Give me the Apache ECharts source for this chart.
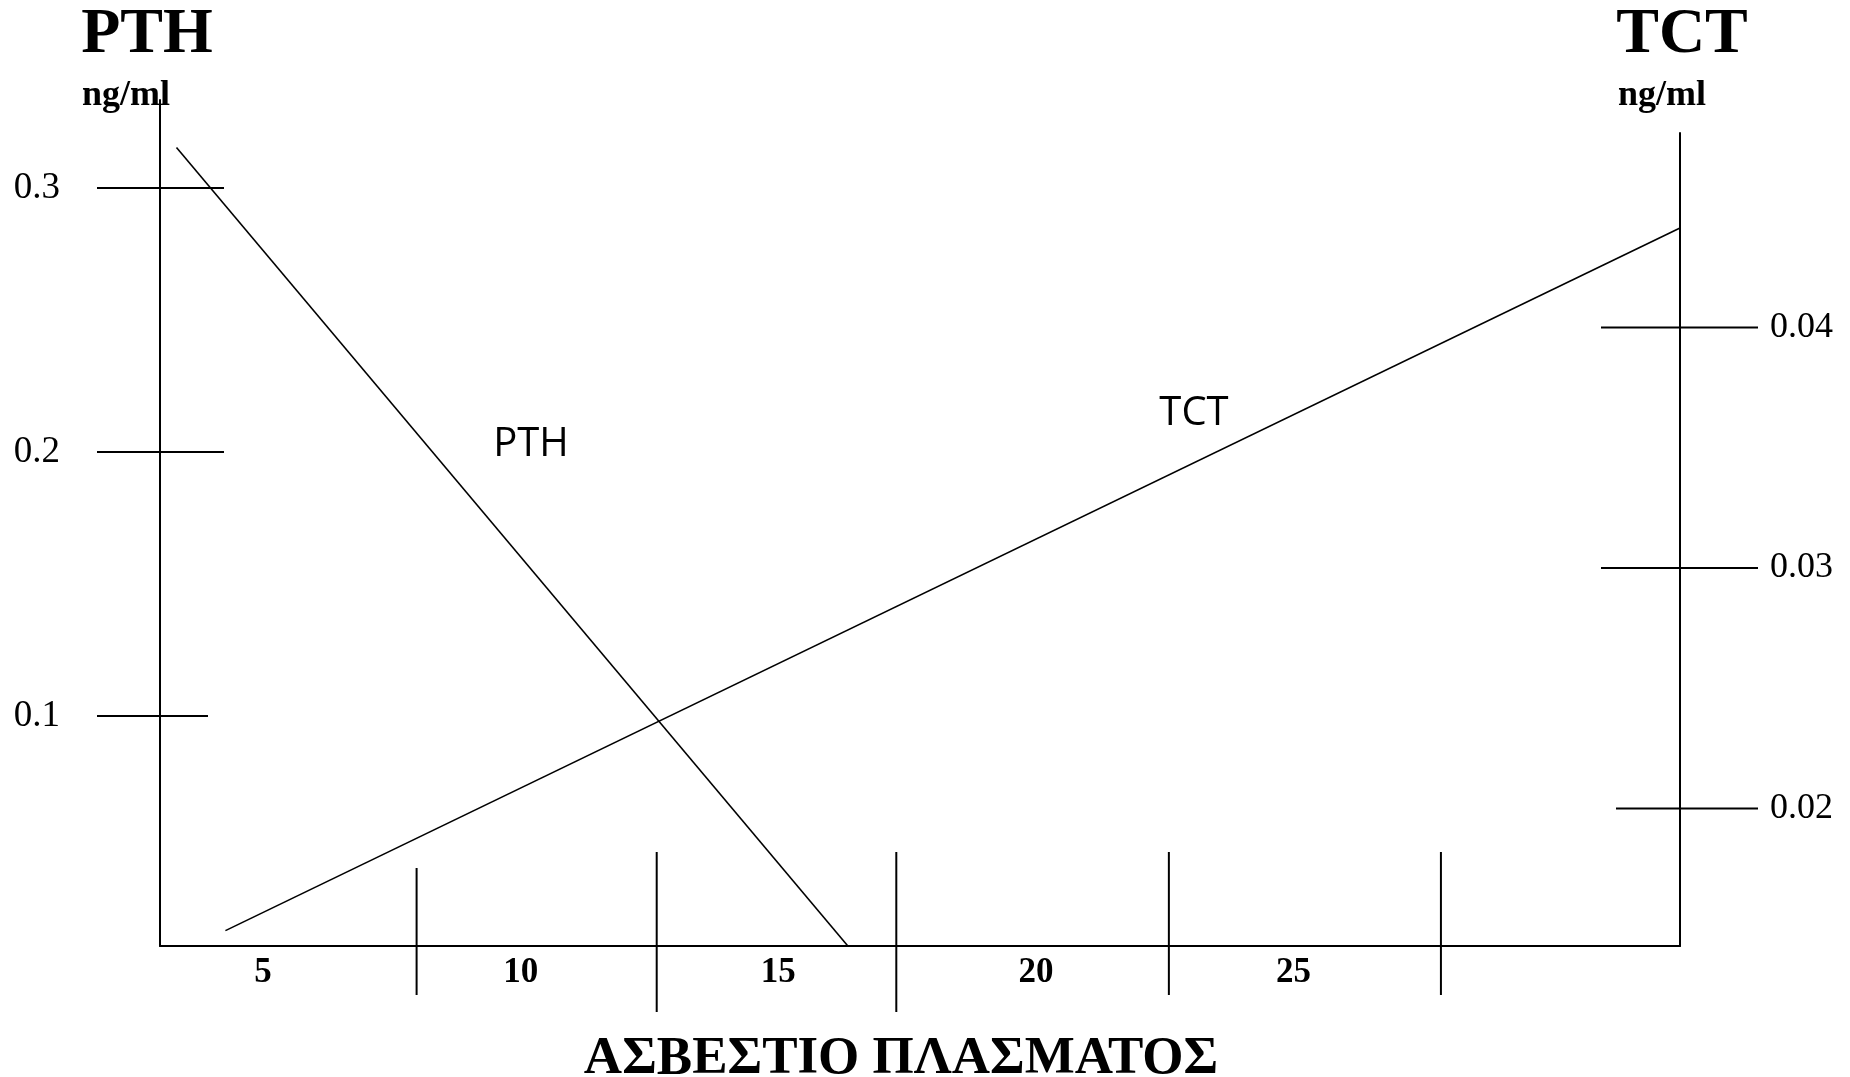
<!DOCTYPE html>
<html><head><meta charset="utf-8">
<script src="https://cdn.jsdelivr.net/npm/echarts@6/dist/echarts.min.js"></script>
<style>html,body{margin:0;padding:0;background:#fff}#c{width:1850px;height:1077px}</style>
</head><body><div id="c"></div>
<script>
// ---- data ----
const xLabels   = [5, 10, 15, 20, 25];                 // calcium labels
const xTickPos  = [7.98, 12.64, 17.29, 22.58, 27.86];  // drawn divider ticks (calcium units)
const pthTicks  = [0.1, 0.2, 0.3];                     // PTH ng/ml ticks
const tctTicks  = [0.02, 0.03, 0.04];                  // TCT ng/ml ticks
const pthX = [3.32, 16.35];
const pthY = [0.3153, 0.0129];
const tctX = [4.27, 32.5];
const tctY = [0.01492, 0.04414];

// ---- axis ranges ----
const X_MIN = 3, X_MAX = 32.5;
const PTH_MIN = 0.0129, PTH_MAX = 0.3333;
const TCT_MIN = 0.01428, TCT_MAX = 0.04809;

// ---- tick lengths (style) ----
const leftTickLen   = [[63, 48], [63, 64], [63, 64]];
const rightTickLen  = [[64, 78], [79, 78], [79, 78]];
const bottomTickLen = [[78, 49], [94, 66], [94, 66], [94, 49], [94, 49]];

const serif = '"Liberation Serif","Times New Roman",serif';
const chart = echarts.init(document.getElementById('c'));

function hTicks(lens) {
  return function (params, api) {
    const p = api.coord([api.value(0), api.value(1)]);
    const l = lens[params.dataIndex];
    return { type: 'line', shape: { x1: p[0] - l[0], y1: p[1], x2: p[0] + l[1], y2: p[1] },
             style: { stroke: '#000', lineWidth: 2 } };
  };
}
function vTicks(lens) {
  return function (params, api) {
    const p = api.coord([api.value(0), api.value(1)]);
    const l = lens[params.dataIndex];
    return { type: 'line', shape: { x1: p[0], y1: p[1] - l[0], x2: p[0], y2: p[1] + l[1] },
             style: { stroke: '#000', lineWidth: 2 } };
  };
}
function txt(text, x, y, font, align) {
  return { type: 'text', x: x, y: y, silent: true,
    style: { text: text, font: font, fill: '#000', align: align || 'center', textAlign: align || 'center',
             verticalAlign: 'middle', textVerticalAlign: 'middle' } };
}

chart.setOption({
  animation: false,
  backgroundColor: '#fff',
  grid: [
    { left: 160, right: 170, top: 100, bottom: 131 },
    { left: 160, right: 170, top: 133, bottom: 131 }
  ],
  xAxis: [
    { type: 'value', gridIndex: 0, min: X_MIN, max: X_MAX,
      axisLine: { show: true, onZero: false, lineStyle: { color: '#000', width: 2 } },
      axisTick: { show: false }, splitLine: { show: false },
      axisLabel: { customValues: xLabels, color: '#000', fontFamily: serif, fontWeight: 'bold', fontSize: 35, margin: 9 } },
    { type: 'value', gridIndex: 1, min: X_MIN, max: X_MAX, show: false }
  ],
  yAxis: [
    { type: 'value', gridIndex: 0, min: PTH_MIN, max: PTH_MAX,
      axisLine: { show: true, onZero: false, lineStyle: { color: '#000', width: 2 } },
      axisTick: { show: false }, splitLine: { show: false },
      axisLabel: { customValues: pthTicks, formatter: v => v.toFixed(1), color: '#000', fontFamily: serif, fontSize: 37, margin: 100 } },
    { type: 'value', gridIndex: 1, position: 'right', min: TCT_MIN, max: TCT_MAX,
      axisLine: { show: true, onZero: false, lineStyle: { color: '#000', width: 2 } },
      axisTick: { show: false }, splitLine: { show: false },
      axisLabel: { customValues: tctTicks, formatter: v => v.toFixed(2), color: '#000', fontFamily: serif, fontSize: 36, margin: 90 } }
  ],
  series: [
    { type: 'line', name: 'PTH', xAxisIndex: 0, yAxisIndex: 0, symbol: 'none', clip: false,
      lineStyle: { color: '#000', width: 1.6 }, data: pthX.map((x, i) => [x, pthY[i]]) },
    { type: 'line', name: 'TCT', xAxisIndex: 1, yAxisIndex: 1, symbol: 'none', clip: false,
      lineStyle: { color: '#000', width: 1.6 }, data: tctX.map((x, i) => [x, tctY[i]]) },
    { type: 'custom', xAxisIndex: 0, yAxisIndex: 0, clip: false, renderItem: hTicks(leftTickLen),
      data: pthTicks.map(v => [X_MIN, v]) },
    { type: 'custom', xAxisIndex: 1, yAxisIndex: 1, clip: false, renderItem: hTicks(rightTickLen),
      data: tctTicks.map(v => [X_MAX, v]) },
    { type: 'custom', xAxisIndex: 0, yAxisIndex: 0, clip: false, renderItem: vTicks(bottomTickLen),
      data: xTickPos.map(v => [v, PTH_MIN]) }
  ],
  graphic: [
    txt('PTH', 147, 35.5, 'bold 64px ' + serif),
    txt('ng/ml', 82, 96, 'bold 36px ' + serif, 'left'),
    txt('TCT', 1682, 35.5, 'bold 64px ' + serif),
    txt('ng/ml', 1618, 96, 'bold 36px ' + serif, 'left'),
    txt('ΑΣΒΕΣΤΙΟ ΠΛΑΣΜΑΤΟΣ', 901, 1059, 'bold 53px ' + serif),
    txt('PTH', 531, 445, '40px "Open Sans", sans-serif'),
    txt('TCT', 1194, 414, '40px "Open Sans", sans-serif')
  ]
});
</script></body></html>
